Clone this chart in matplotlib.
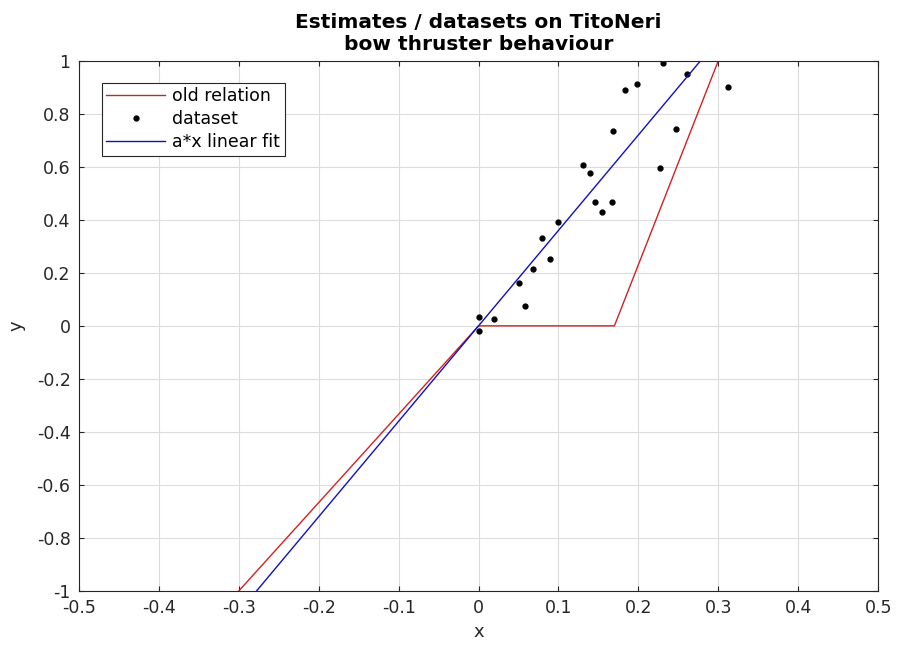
import numpy as np
import matplotlib
matplotlib.use("Agg")
import matplotlib.pyplot as plt

# measured dataset (bow thruster behaviour)
data_x = [0.231, 0.261, 0.312, 0.183, 0.198, 0.168, 0.247, 0.131, 0.140, 0.227,
          0.146, 0.167, 0.154, 0.099, 0.080, 0.0895, 0.0685, 0.050, 0.058, 0.019,
          0.0, 0.0]
data_y = [0.990, 0.951, 0.901, 0.891, 0.911, 0.735, 0.744, 0.606, 0.577, 0.596,
          0.468, 0.468, 0.430, 0.391, 0.330, 0.252, 0.213, 0.163, 0.074, 0.025,
          0.035, -0.019]

# old piecewise relation
old_x = [-0.3, 0.0, 0.17, 0.3]
old_y = [-1.0, 0.0, 0.0, 1.0]

# a*x linear fit
a = 3.6
fit_x = np.array([-0.5, 0.5])

fig = plt.figure(figsize=(8.97, 6.53), dpi=100)
ax = fig.add_axes([0.088, 0.095, 0.891, 0.812])

ax.plot(old_x, old_y, color="#d62020", lw=1.0, label="old relation")
ax.plot(data_x, data_y, ls="none", marker="o", ms=3.5, color="black", label="dataset")
ax.plot(fit_x, a * fit_x, color="#1010c0", lw=1.0, label="a*x linear fit")

ax.set_xlim(-0.5, 0.5)
ax.set_ylim(-1, 1)
ax.set_xticks(np.arange(-0.5, 0.51, 0.1))
ax.set_yticks(np.arange(-1, 1.01, 0.2))
fmt = plt.FuncFormatter(lambda v, p: f"{v:g}" if abs(v) > 1e-9 else "0")
ax.xaxis.set_major_formatter(fmt)
ax.yaxis.set_major_formatter(fmt)
ax.tick_params(direction="in", top=True, right=True, labelsize=12.5, colors="#262626", pad=6)
ax.grid(True, color="#dcdcdc", lw=0.8)
ax.set_axisbelow(True)
for s in ax.spines.values():
    s.set_color("#262626")

ax.set_xlabel("x", fontsize=13, color="#262626", labelpad=4)
ax.set_ylabel("y", fontsize=13, color="#262626", labelpad=8)
ax.set_title("Estimates / datasets on TitoNeri\nbow thruster behaviour",
             fontsize=14.5, fontweight="bold", linespacing=1.2, pad=8)

leg = ax.legend(loc="upper left", bbox_to_anchor=(0.018, 0.975), fontsize=12.5,
                fancybox=False, edgecolor="#262626", framealpha=1,
                handlelength=3.4, borderpad=0.25, labelspacing=0.3, handletextpad=0.4)
leg.get_frame().set_linewidth(0.8)

fig.savefig("out.png", dpi=100)
